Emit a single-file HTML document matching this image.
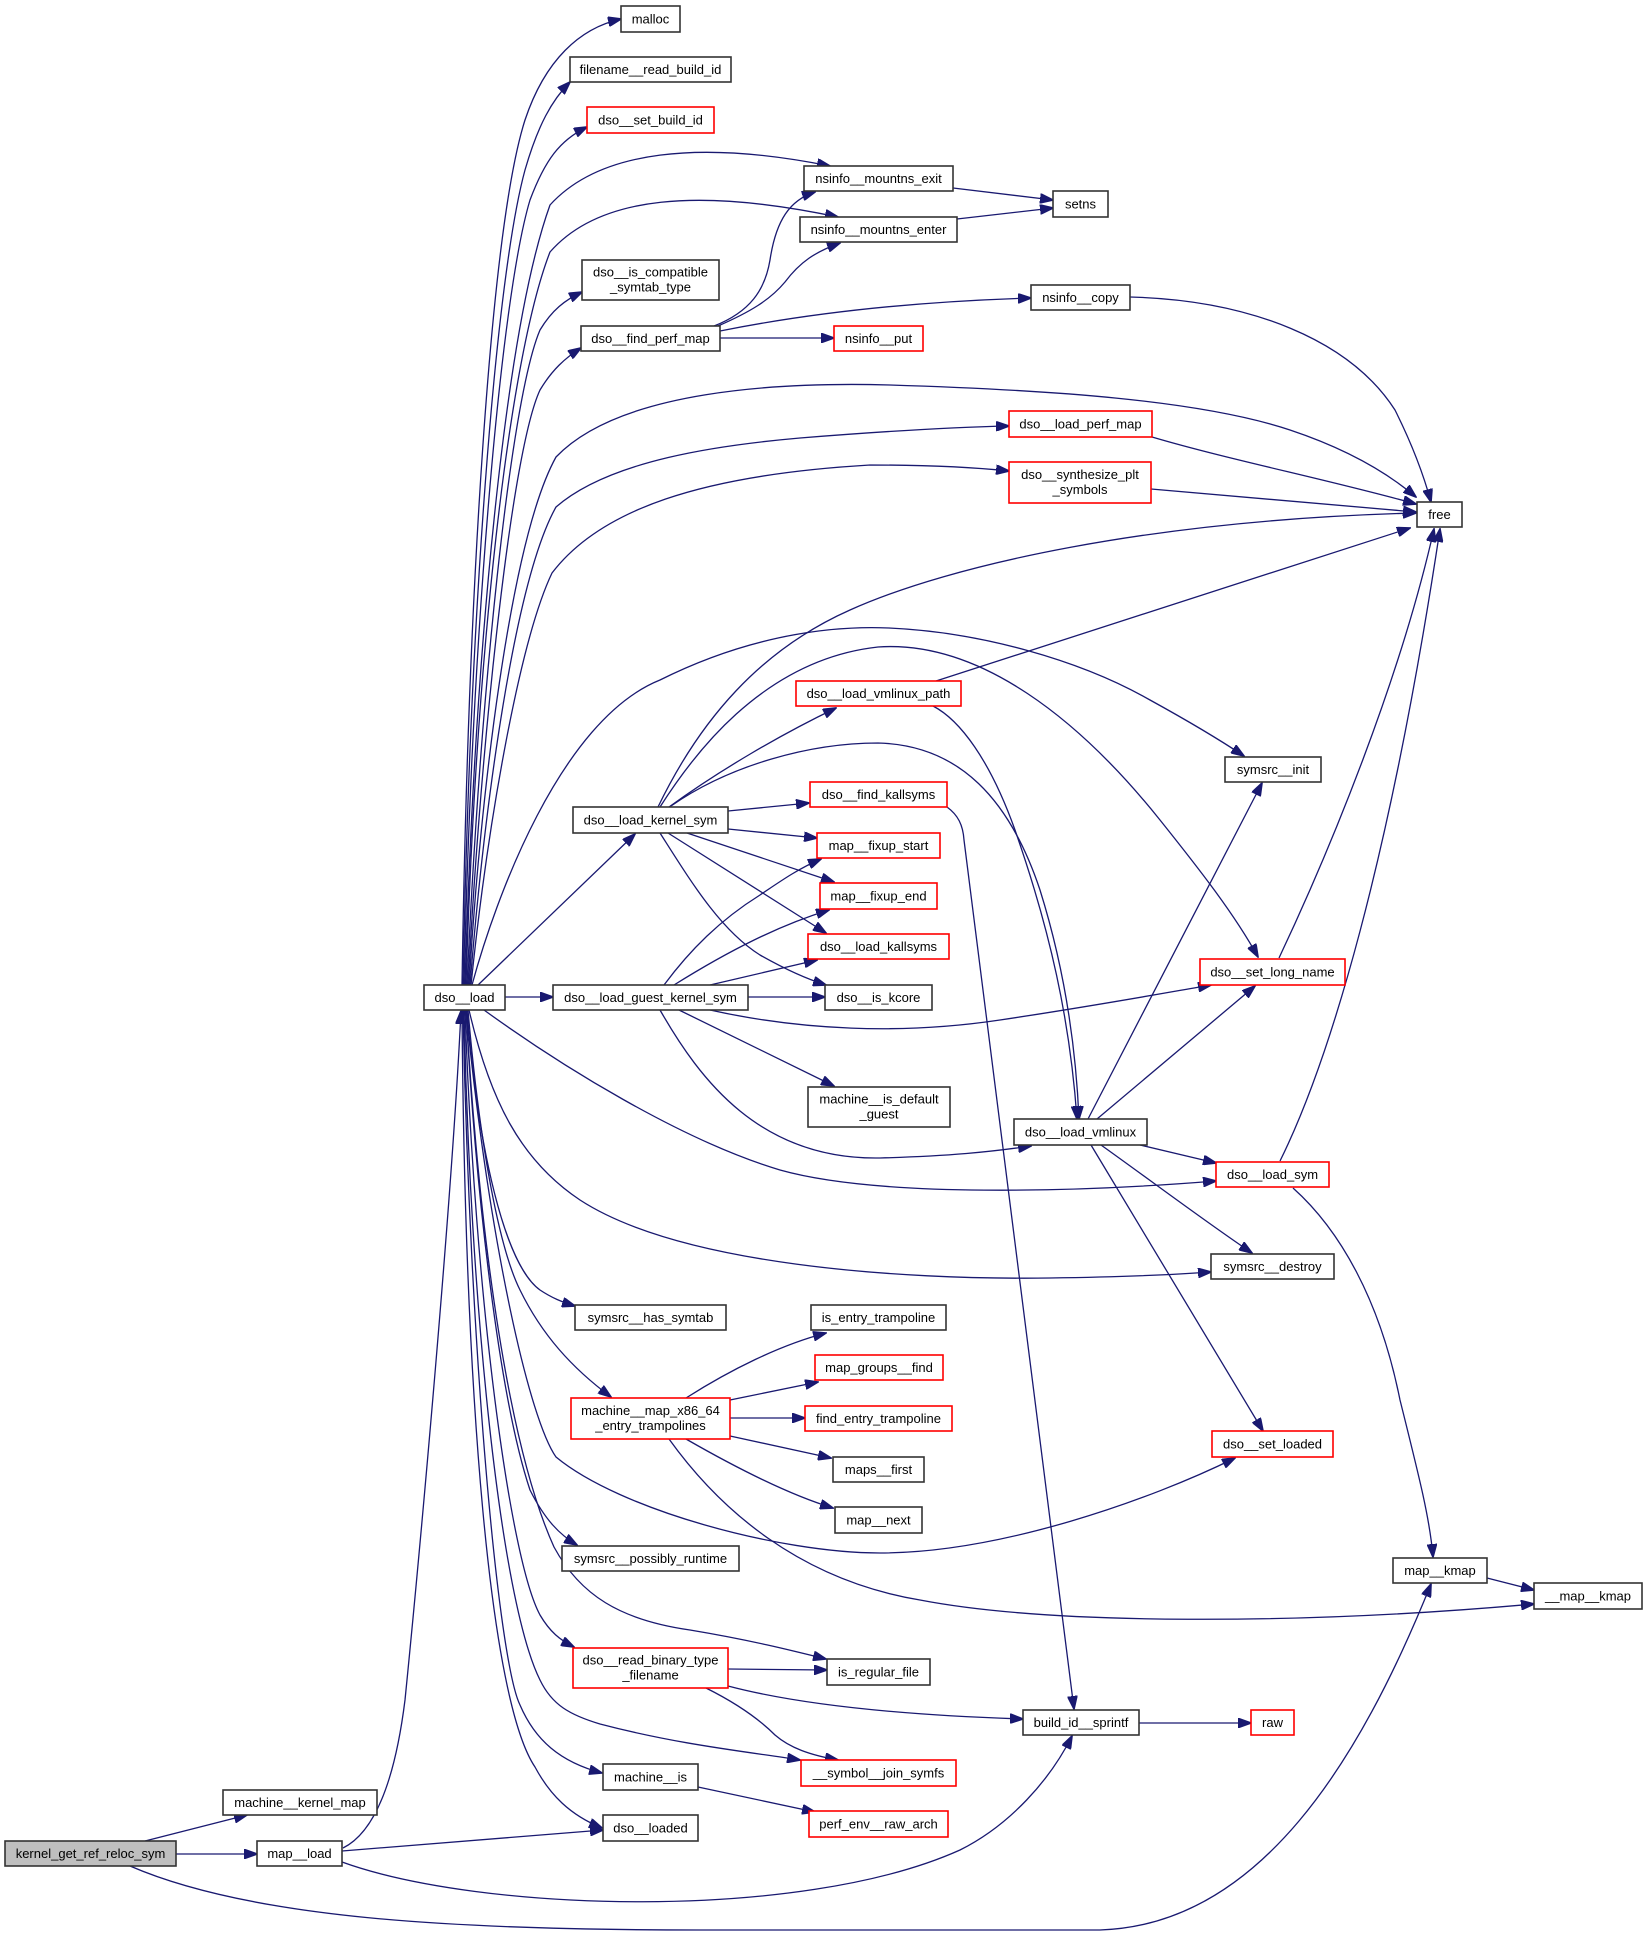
<!DOCTYPE html>
<html><head><meta charset="utf-8"><style>
html,body{margin:0;padding:0;background:#fff;}
svg{display:block;}
text{font-family:"Liberation Sans",Arial,sans-serif;font-size:13px;fill:#000;text-anchor:middle;}
.e{fill:none;stroke:#191970;stroke-width:1.3;marker-end:url(#a);}
.n{fill:#fff;stroke:#333;stroke-width:1.6;}
.r{fill:#fff;stroke:#f00;stroke-width:1.6;}
.g{fill:#bfbfbf;stroke:#333;stroke-width:1.6;}
</style></head><body>
<svg width="1647" height="1935" viewBox="0 0 1647 1935" xmlns="http://www.w3.org/2000/svg">
<defs><marker id="a" markerWidth="14" markerHeight="10" refX="13" refY="5" orient="auto" markerUnits="userSpaceOnUse"><path d="M0,0 L14,5 L0,10 z" fill="#191970" stroke="#191970" stroke-width="1"/></marker></defs>
<g>
<path class="e" d="M145,1841 L247,1815"/>
<path class="e" d="M176,1854 L257,1854"/>
<path class="e" d="M130,1866 C250,1918 450,1930 700,1930 L1100,1930 C1260,1925 1360,1760 1431,1584"/>
<path class="e" d="M343,1848 C375,1832 395,1780 405,1700 C420,1550 452,1200 461,1011"/>
<path class="e" d="M342,1851 L603,1830"/>
<path class="e" d="M342,1862 C480,1912 800,1922 960,1850 C1010,1825 1050,1780 1072,1736"/>
<path class="e" d="M462,985 C468,600 490,230 525,120 C545,60 580,28 621,19"/>
<path class="e" d="M463,985 C470,620 495,280 525,170 C538,125 552,100 570,82"/>
<path class="e" d="M464,985 C472,640 500,300 530,200 C545,160 560,140 587,127"/>
<path class="e" d="M465,985 C475,650 505,330 550,205 C600,150 700,140 830,166"/>
<path class="e" d="M466,985 C476,660 508,360 550,252 C600,195 700,188 838,217"/>
<path class="e" d="M467,985 C480,700 510,400 540,330 C552,310 565,300 582,292"/>
<path class="e" d="M468,985 C482,730 512,450 540,390 C552,370 565,358 581,348"/>
<path class="e" d="M469,985 C480,800 510,540 556,457 C620,390 780,382 890,385 C1050,390 1200,400 1290,430 C1350,450 1390,475 1416,497"/>
<path class="e" d="M470,985 C485,800 515,580 556,507 C610,460 720,445 800,438 C900,430 960,427 1009,426"/>
<path class="e" d="M471,985 C488,820 520,640 552,573 C600,510 700,475 870,465 C940,465 980,468 1009,471"/>
<path class="e" d="M472,985 C495,900 560,720 660,680 C740,640 820,625 889,628 C980,632 1080,660 1150,700 C1190,722 1220,740 1244,756"/>
<path class="e" d="M478,985 L635,834"/>
<path class="e" d="M505,997 L553,997"/>
<path class="e" d="M484,1010 C560,1065 680,1140 780,1170 C880,1198 1080,1192 1216,1181"/>
<path class="e" d="M469,1010 C490,1100 520,1160 580,1200 C680,1265 900,1280 1050,1278 C1120,1277 1170,1275 1211,1272"/>
<path class="e" d="M467,1010 C478,1150 505,1265 540,1290 C552,1298 562,1302 575,1306"/>
<path class="e" d="M468,1010 C480,1150 500,1250 520,1290 C542,1335 572,1368 611,1397"/>
<path class="e" d="M466,1010 C490,1250 530,1420 556,1457 C620,1510 780,1553 880,1553 C1000,1553 1150,1500 1235,1458"/>
<path class="e" d="M466,1010 C476,1200 500,1400 530,1490 C545,1520 560,1535 577,1545"/>
<path class="e" d="M466,1010 C480,1250 510,1450 554,1547 C580,1595 620,1620 690,1630 C750,1640 790,1650 826,1659"/>
<path class="e" d="M465,1010 C475,1300 510,1560 540,1615 C550,1632 560,1640 574,1647"/>
<path class="e" d="M464,1010 C470,1300 500,1600 540,1680 C552,1705 570,1715 600,1724 C680,1745 750,1752 800,1760"/>
<path class="e" d="M463,1010 C470,1350 498,1660 520,1705 C535,1740 560,1762 602,1773"/>
<path class="e" d="M462,1010 C465,1400 490,1700 535,1767 C550,1795 570,1815 602,1828"/>
<path class="e" d="M728,811 L809,803"/>
<path class="e" d="M728,829 L817,838"/>
<path class="e" d="M687,833 L834,882"/>
<path class="e" d="M668,833 L826,933"/>
<path class="e" d="M660,833 C690,880 720,930 760,955 C790,972 810,980 826,985"/>
<path class="e" d="M669,807 C720,770 780,735 836,708"/>
<path class="e" d="M671,806 C730,765 810,743 878,743 C960,745 1010,800 1040,890 C1065,970 1076,1050 1079,1119"/>
<path class="e" d="M660,807 C690,760 760,660 878,647 C980,640 1080,720 1160,820 C1200,870 1235,915 1258,957"/>
<path class="e" d="M658,807 C700,720 760,650 850,610 C950,565 1150,520 1416,513"/>
<path class="e" d="M664,985 C690,950 720,920 760,895 C785,878 800,868 821,859"/>
<path class="e" d="M674,985 C730,950 780,925 829,910"/>
<path class="e" d="M710,985 L817,960"/>
<path class="e" d="M748,997 L825,997"/>
<path class="e" d="M710,1010 C800,1030 900,1035 1000,1020 C1100,1005 1170,992 1211,985"/>
<path class="e" d="M679,1010 L834,1086"/>
<path class="e" d="M660,1010 C700,1080 760,1160 880,1158 C950,1156 990,1152 1031,1146"/>
<path class="e" d="M936,681 L1410,528"/>
<path class="e" d="M933,706 C960,720 990,760 1015,830 C1050,930 1070,1020 1077,1119"/>
<path class="e" d="M947,807 C958,815 963,825 964,840 L1074,1709"/>
<path class="e" d="M714,326 C750,312 765,290 770,260 C776,220 790,200 815,192"/>
<path class="e" d="M718,326 C750,312 770,300 785,282 C800,262 815,252 840,243"/>
<path class="e" d="M720,331 C800,315 900,302 1031,298"/>
<path class="e" d="M720,338 L834,338"/>
<path class="e" d="M953,188 L1053,200"/>
<path class="e" d="M957,219 L1053,208"/>
<path class="e" d="M1130,297 C1250,300 1350,340 1395,410 C1415,450 1425,480 1431,502"/>
<path class="e" d="M1152,437 C1230,460 1330,480 1416,504"/>
<path class="e" d="M1151,489 L1416,512"/>
<path class="e" d="M1279,958 C1330,850 1400,680 1434,529"/>
<path class="e" d="M1280,1161 C1330,1060 1390,860 1440,529"/>
<path class="e" d="M1293,1188 C1340,1230 1380,1300 1400,1400 C1420,1480 1430,1520 1433,1557"/>
<path class="e" d="M1487,1578 L1534,1590"/>
<path class="e" d="M1088,1119 L1262,783"/>
<path class="e" d="M1097,1119 L1255,986"/>
<path class="e" d="M1140,1145 L1216,1163"/>
<path class="e" d="M1101,1145 C1150,1180 1210,1225 1252,1253"/>
<path class="e" d="M1091,1145 L1263,1431"/>
<path class="e" d="M686,1398 C730,1370 780,1345 826,1333"/>
<path class="e" d="M730,1400 L818,1382"/>
<path class="e" d="M730,1418 L805,1418"/>
<path class="e" d="M730,1436 L831,1458"/>
<path class="e" d="M686,1439 C740,1470 790,1495 833,1508"/>
<path class="e" d="M669,1439 C720,1510 800,1580 920,1600 C1050,1625 1300,1625 1534,1604"/>
<path class="e" d="M728,1669 L827,1670"/>
<path class="e" d="M728,1686 C800,1705 900,1715 1023,1719"/>
<path class="e" d="M706,1688 C740,1705 760,1720 775,1735 C790,1748 810,1755 838,1760"/>
<path class="e" d="M698,1787 L815,1812"/>
<path class="e" d="M1139,1723 L1251,1723"/>
</g>
<g>
<rect class="g" x="5" y="1841" width="171" height="25"/><text x="90.5" y="1858">kernel_get_ref_reloc_sym</text>
<rect class="n" x="223" y="1790" width="154" height="25"/><text x="300" y="1807">machine__kernel_map</text>
<rect class="n" x="257" y="1841" width="85" height="25"/><text x="299.5" y="1858">map__load</text>
<rect class="n" x="424" y="985" width="81" height="25"/><text x="464.5" y="1002">dso__load</text>
<rect class="n" x="621" y="6" width="59" height="26"/><text x="650.5" y="23.5">malloc</text>
<rect class="n" x="570" y="57" width="161" height="25"/><text x="650.5" y="74">filename__read_build_id</text>
<rect class="r" x="587" y="107" width="127" height="26"/><text x="650.5" y="124.5">dso__set_build_id</text>
<rect class="n" x="582" y="260" width="137" height="40"/><text x="650.5" y="276.5">dso__is_compatible</text><text x="650.5" y="291.5">_symtab_type</text>
<rect class="n" x="581" y="326" width="139" height="25"/><text x="650.5" y="343">dso__find_perf_map</text>
<rect class="n" x="573" y="807" width="155" height="26"/><text x="650.5" y="824.5">dso__load_kernel_sym</text>
<rect class="n" x="553" y="985" width="195" height="25"/><text x="650.5" y="1002">dso__load_guest_kernel_sym</text>
<rect class="n" x="575" y="1305" width="151" height="25"/><text x="650.5" y="1322">symsrc__has_symtab</text>
<rect class="r" x="571" y="1398" width="159" height="41"/><text x="650.5" y="1415">machine__map_x86_64</text><text x="650.5" y="1430">_entry_trampolines</text>
<rect class="n" x="562" y="1546" width="177" height="25"/><text x="650.5" y="1563">symsrc__possibly_runtime</text>
<rect class="r" x="573" y="1648" width="155" height="40"/><text x="650.5" y="1664.5">dso__read_binary_type</text><text x="650.5" y="1679.5">_filename</text>
<rect class="n" x="603" y="1764" width="95" height="26"/><text x="650.5" y="1781.5">machine__is</text>
<rect class="n" x="603" y="1815" width="95" height="26"/><text x="650.5" y="1832.5">dso__loaded</text>
<rect class="n" x="804" y="166" width="149" height="25"/><text x="878.5" y="183">nsinfo__mountns_exit</text>
<rect class="n" x="800" y="217" width="157" height="25"/><text x="878.5" y="234">nsinfo__mountns_enter</text>
<rect class="r" x="834" y="326" width="89" height="25"/><text x="878.5" y="343">nsinfo__put</text>
<rect class="r" x="796" y="681" width="165" height="25"/><text x="878.5" y="698">dso__load_vmlinux_path</text>
<rect class="r" x="810" y="782" width="137" height="25"/><text x="878.5" y="799">dso__find_kallsyms</text>
<rect class="r" x="817" y="833" width="123" height="25"/><text x="878.5" y="850">map__fixup_start</text>
<rect class="r" x="820" y="883" width="117" height="26"/><text x="878.5" y="900.5">map__fixup_end</text>
<rect class="r" x="808" y="934" width="141" height="25"/><text x="878.5" y="951">dso__load_kallsyms</text>
<rect class="n" x="825" y="985" width="107" height="25"/><text x="878.5" y="1002">dso__is_kcore</text>
<rect class="n" x="808" y="1087" width="142" height="40"/><text x="879" y="1103.5">machine__is_default</text><text x="879" y="1118.5">_guest</text>
<rect class="n" x="811" y="1305" width="135" height="25"/><text x="878.5" y="1322">is_entry_trampoline</text>
<rect class="r" x="815" y="1355" width="128" height="25"/><text x="879" y="1372">map_groups__find</text>
<rect class="r" x="805" y="1406" width="147" height="25"/><text x="878.5" y="1423">find_entry_trampoline</text>
<rect class="n" x="833" y="1457" width="91" height="25"/><text x="878.5" y="1474">maps__first</text>
<rect class="n" x="835" y="1507" width="87" height="26"/><text x="878.5" y="1524.5">map__next</text>
<rect class="n" x="827" y="1659" width="103" height="26"/><text x="878.5" y="1676.5">is_regular_file</text>
<rect class="r" x="801" y="1760" width="155" height="26"/><text x="878.5" y="1777.5">__symbol__join_symfs</text>
<rect class="r" x="809" y="1811" width="139" height="26"/><text x="878.5" y="1828.5">perf_env__raw_arch</text>
<rect class="n" x="1053" y="191" width="55" height="26"/><text x="1080.5" y="208.5">setns</text>
<rect class="n" x="1031" y="285" width="99" height="25"/><text x="1080.5" y="302">nsinfo__copy</text>
<rect class="r" x="1009" y="411" width="143" height="26"/><text x="1080.5" y="428.5">dso__load_perf_map</text>
<rect class="r" x="1009" y="462" width="142" height="41"/><text x="1080" y="479">dso__synthesize_plt</text><text x="1080" y="494">_symbols</text>
<rect class="n" x="1014" y="1119" width="133" height="26"/><text x="1080.5" y="1136.5">dso__load_vmlinux</text>
<rect class="n" x="1023" y="1710" width="116" height="25"/><text x="1081" y="1727">build_id__sprintf</text>
<rect class="n" x="1417" y="502" width="45" height="25"/><text x="1439.5" y="519">free</text>
<rect class="n" x="1225" y="757" width="96" height="25"/><text x="1273" y="774">symsrc__init</text>
<rect class="r" x="1200" y="959" width="145" height="26"/><text x="1272.5" y="976.5">dso__set_long_name</text>
<rect class="r" x="1216" y="1162" width="113" height="25"/><text x="1272.5" y="1179">dso__load_sym</text>
<rect class="n" x="1211" y="1254" width="123" height="25"/><text x="1272.5" y="1271">symsrc__destroy</text>
<rect class="r" x="1212" y="1431" width="121" height="26"/><text x="1272.5" y="1448.5">dso__set_loaded</text>
<rect class="n" x="1393" y="1558" width="94" height="25"/><text x="1440" y="1575">map__kmap</text>
<rect class="n" x="1534" y="1583" width="108" height="26"/><text x="1588" y="1600.5">__map__kmap</text>
<rect class="r" x="1251" y="1710" width="43" height="25"/><text x="1272.5" y="1727">raw</text>
</g>
</svg>
</body></html>
